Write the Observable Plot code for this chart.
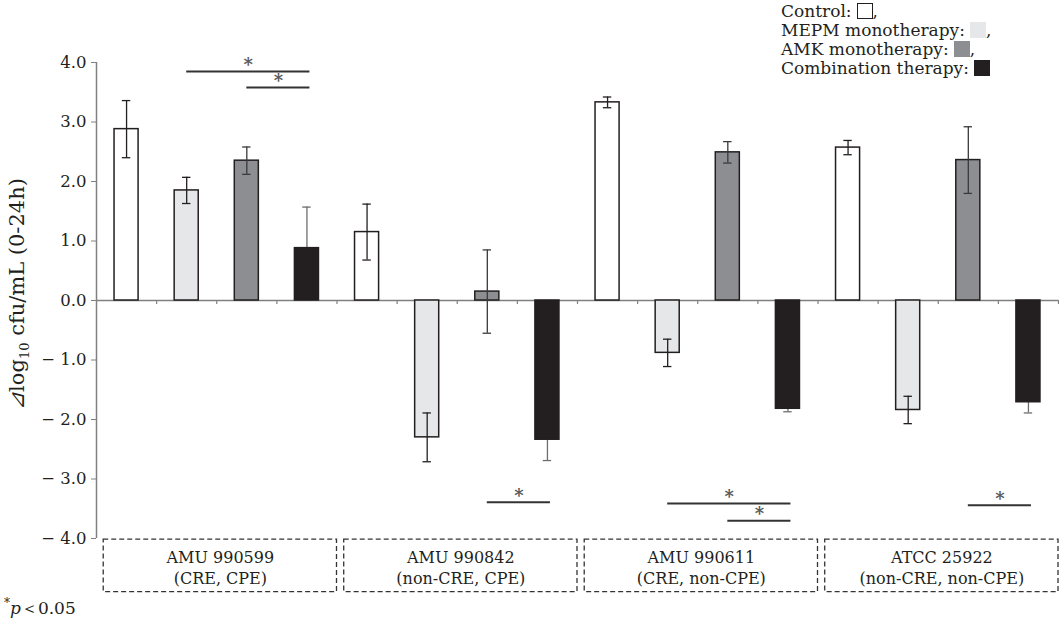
<!DOCTYPE html>
<html><head><meta charset="utf-8">
<script src="https://cdn.jsdelivr.net/npm/d3@7"></script>
<script src="https://cdn.jsdelivr.net/npm/@observablehq/plot@0.6"></script>
<style>
body{margin:0;background:#fff;}
#wrap{position:relative;width:1059px;height:628px;font-family:"DejaVu Serif",serif;color:#231f20;}
#legend{position:absolute;left:781px;top:2px;font-size:17px;line-height:19px;}
.sw{display:inline-block;width:16px;height:16px;vertical-align:-2px;margin-left:5px;box-sizing:border-box;}
#note{position:absolute;left:4px;top:596px;font-size:17px;}
</style></head><body>
<div id="wrap"><div id="chart"></div><div id="legend"></div><div id="note"><sup style="font-size:12px">*</sup><i>p</i>＜0.05</div></div>
<script>
// ---- data ----
const groups = ["AMU 990599", "AMU 990842", "AMU 990611", "ATCC 25922"];
const groupTypes = ["(CRE, CPE)", "(non-CRE, CPE)", "(CRE, non-CPE)", "(non-CRE, non-CPE)"];
const treatments = ["Control", "MEPM monotherapy", "AMK monotherapy", "Combination therapy"];
const control    = [2.88, 1.15, 3.33, 2.57];
const controlErr = [0.48, 0.47, 0.09, 0.12];
const mepm       = [1.85, -2.30, -0.88, -1.84];
const mepmErr    = [0.22, 0.41, 0.23, 0.23];
const amk        = [2.35, 0.15, 2.49, 2.36];
const amkErr     = [0.23, 0.70, 0.18, 0.56];
const combo      = [0.88, -2.34, -1.82, -1.71];
const comboErr   = [0.69, 0.35, 0.05, 0.18];
const yTicks = [-4, -3, -2, -1, 0, 1, 2, 3, 4];
// significance comparisons: group index, treatment a, treatment b, bracket level
const sigGroup = [0, 0, 1, 2, 2, 3];
const sigFrom  = [1, 2, 2, 1, 2, 2];
const sigTo    = [3, 3, 3, 3, 3, 3];
const sigLevel = [3.85, 3.58, -3.39, -3.41, -3.70, -3.44];

// ---- styles ----
const fills = ["#ffffff", "#e6e7e8", "#8d8e91", "#231f20"];
const swBorder = ["1.5px solid #231f20", "none", "none", "none"];
const errColor = ["#231f20", "#231f20", "#3a3a3c", "#6d6e71"];

const values = [control, mepm, amk, combo];
const errs = [controlErr, mepmErr, amkErr, comboErr];
const nT = treatments.length;
const rows = groups.flatMap((g, gi) => treatments.map((t, ti) => ({
  group: g, gi, ti, slot: gi * nT + ti, value: values[ti][gi], err: errs[ti][gi]
})));
const sig = sigGroup.map((g, i) => ({
  x1: g * nT + sigFrom[i] + 0.5, x2: g * nT + sigTo[i] + 0.55, level: sigLevel[i]
}));
const boxes = groups.map((g, gi) => ({gi, label: g + "\n" + groupTypes[gi]}));

const W = 1059, H = 628, mL = 96, mR = 1, mT = 62, mB = 90;
const pxPerUnit = (H - mT - mB) / (yTicks[yTicks.length - 1] - yTicks[0]);
const catTicks = d3.range(1, groups.length * nT + 1);

const errMarks = (data, color) => [
  Plot.ruleX(data, {x: d => d.slot + 0.5, y1: d => d.value - d.err, y2: d => d.value + d.err, stroke: color, strokeWidth: 1.3}),
  Plot.ruleY(data, {x1: d => d.slot + 0.43, x2: d => d.slot + 0.57, y: d => d.value + d.err, stroke: color, strokeWidth: 1.3}),
  Plot.ruleY(data, {x1: d => d.slot + 0.43, x2: d => d.slot + 0.57, y: d => d.value - d.err, stroke: color, strokeWidth: 1.3})
];

const fmt = d => d < 0 ? "\u2212 " + Math.abs(d).toFixed(1) : d.toFixed(1);

const chart = Plot.plot({
  width: W, height: H,
  marginLeft: mL, marginRight: mR, marginTop: mT, marginBottom: mB,
  style: {fontFamily: "DejaVu Serif, serif", fontSize: "16px", color: "#231f20", background: "#fff"},
  x: {type: "linear", domain: [0, groups.length * nT], axis: null},
  y: {domain: [yTicks[0], yTicks[yTicks.length - 1]], axis: null},
  marks: [
    Plot.ruleY([0], {stroke: "#808080", strokeWidth: 1.5}),
    Plot.ruleX(catTicks, {x: d => d, y1: 0, y2: -4 / pxPerUnit, stroke: "#808080", strokeWidth: 1.2}),
    Plot.ruleX([0], {y1: yTicks[0], y2: yTicks[yTicks.length - 1], stroke: "#808080", strokeWidth: 1.5}),
    Plot.axisY(yTicks, {tickSize: 5, tickPadding: 5, tickFormat: fmt, stroke: "#808080", fill: "#231f20", fontSize: 16.5, label: null}),
    ...errMarks(rows.filter(d => d.ti === 3), errColor[3]),
    Plot.rect(rows, {x1: d => d.slot + 0.3, x2: d => d.slot + 0.7, y1: 0, y2: "value",
      fill: d => fills[d.ti], stroke: "#231f20", strokeWidth: 1.5}),
    ...[0, 1, 2].flatMap(ti => errMarks(rows.filter(d => d.ti === ti), errColor[ti])),
    Plot.ruleY(sig, {x1: "x1", x2: "x2", y: "level", stroke: "#333333", strokeWidth: 2}),
    Plot.text(sig, {x: d => (d.x1 + d.x2) / 2, y: "level", text: () => "*", dy: -6, fill: "#58595b", fontSize: 18, fontWeight: "bold"}),
    Plot.rect(boxes, {x1: d => d.gi * nT + 0.12, x2: d => d.gi * nT + nT, y1: yTicks[0] - 0.02, y2: yTicks[0] - 0.9,
      fill: "none", stroke: "#333", strokeWidth: 1.3, strokeDasharray: "5,3"}),
    Plot.text(boxes, {x: d => d.gi * nT + nT / 2 + 0.06, y: yTicks[0] - 0.47, text: "label", lineHeight: 1.35,
      fontSize: 16, fill: "#231f20"})
  ]
});

// y-axis title with subscript
const ylab = d3.select(chart).append("text")
  .attr("transform", `translate(24,${mT + (H - mT - mB) / 2 - 6}) rotate(-90)`)
  .attr("text-anchor", "middle")
  .attr("font-size", 21)
  .attr("fill", "#231f20");
ylab.append("tspan").attr("font-style", "italic").text("\u22BF");
ylab.append("tspan").text("log");
ylab.append("tspan").attr("font-size", 13).attr("dy", 5).text("10");
ylab.append("tspan").attr("dy", -5).text(" cfu/mL (0-24h)");

document.getElementById("chart").appendChild(chart);

// legend
const leg = document.getElementById("legend");
treatments.forEach((t, i) => {
  const div = document.createElement("div");
  div.textContent = t + ":";
  const sw = document.createElement("span");
  sw.className = "sw";
  sw.style.background = fills[i];
  sw.style.border = swBorder[i];
  div.appendChild(sw);
  if (i < treatments.length - 1) div.appendChild(document.createTextNode(","));
  leg.appendChild(div);
});
</script>
</body></html>
